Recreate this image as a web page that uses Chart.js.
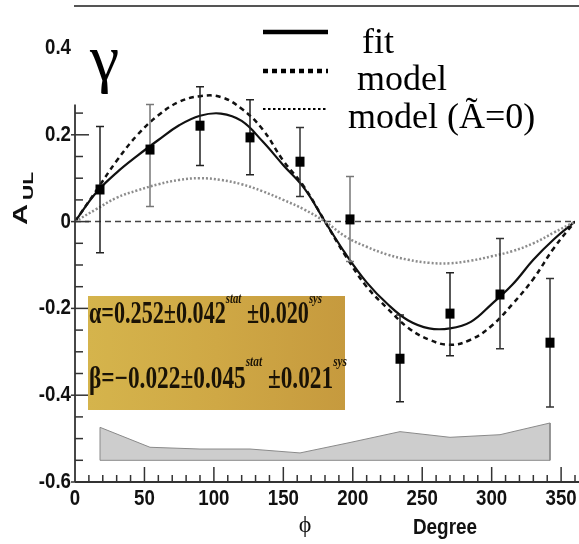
<!DOCTYPE html>
<html><head><meta charset="utf-8">
<style>html,body{margin:0;padding:0;background:#fff;}#wrap{width:579px;height:544px;position:relative;}</style>
<script src="https://cdn.jsdelivr.net/npm/chart.js@4.4.1/dist/chart.umd.min.js"></script>
</head><body><div id="wrap"><canvas id="c" width="579" height="544"></canvas></div>
<script>
// ---- data ----
const phi      = [18, 54, 90, 126, 162, 198, 234, 270, 306, 342];
const aul      = [0.074, 0.166, 0.221, 0.194, 0.138, 0.005, -0.316, -0.212, -0.168, -0.279];
const errHigh  = [0.219, 0.27, 0.311, 0.281, 0.217, 0.104, -0.215, -0.118, -0.039, -0.131];
const errLow   = [-0.072, 0.035, 0.129, 0.108, 0.058, -0.092, -0.415, -0.309, -0.293, -0.427];
const sysTop   = [-0.474, -0.52, -0.524, -0.524, -0.533, -0.509, -0.484, -0.497, -0.491, -0.464];
const sysBase  = -0.55;
const curvePhi = [0,15,30,45,60,75,90,105,120,135,150,165,180,195,210,225,240,255,270,285,300,315,330,345,360];
const fitCurve = [0,0.066,0.113,0.152,0.188,0.222,0.244,0.249,0.232,0.185,0.13,0.077,0,-0.075,-0.14,-0.19,-0.228,-0.246,-0.246,-0.231,-0.19,-0.145,-0.088,-0.04,0];
const modelCurve = [0,0.07,0.14,0.2,0.245,0.276,0.289,0.287,0.26,0.213,0.14,0.08,0,-0.08,-0.15,-0.2,-0.245,-0.272,-0.284,-0.272,-0.24,-0.19,-0.132,-0.06,0];
const modelA0Curve = [0,0.028,0.055,0.072,0.086,0.096,0.1,0.096,0.086,0.07,0.05,0.028,0,-0.035,-0.058,-0.076,-0.088,-0.095,-0.096,-0.09,-0.08,-0.068,-0.05,-0.025,0];
const xTickValues = [0,50,100,150,200,250,300,350];
const xTickLabels = ['0','50','100','150','200','250','300','350'];
const yTickValues = [0.4,0.2,0,-0.2,-0.4,-0.6];
const yTickLabels = ['0.4','0.2','0','-0.2','-0.4','-0.6'];
const legendLabels = ['fit','model','model (Ã=0)'];
const boxLine1 = ['α=0.252±0.042','stat',' ±0.020','sys'];
const boxLine2 = ['β=−0.022±0.045','stat',' ±0.021','sys'];

// ---- styling ----
const barColors = ['#222','#777','#222','#222','#333','#777','#222','#222','#333','#333'];

const pts = (xs, ys) => xs.map((x,i)=>({x:x, y:ys[i]}));
const bandPts = [{x:phi[0],y:sysBase}].concat(pts(phi, sysTop)).concat([{x:phi[phi.length-1],y:sysBase},{x:phi[0],y:sysBase}]);

function ntext(ctx, str, x, y, font, sx, align){
  ctx.save(); ctx.font=font; ctx.translate(x,y); ctx.scale(sx,1);
  ctx.textAlign=align||'left'; ctx.fillText(str,0,0); ctx.restore();
}

const deco = {
  id:'deco',
  beforeDatasetsDraw(chart){
    const ctx=chart.ctx, xs=chart.scales.x, ys=chart.scales.y;
    ctx.save();
    ctx.strokeStyle='#444'; ctx.lineWidth=1.5; ctx.setLineDash([6,4]);
    ctx.beginPath(); ctx.moveTo(xs.getPixelForValue(0), ys.getPixelForValue(0)); ctx.lineTo(xs.getPixelForValue(360), ys.getPixelForValue(0)); ctx.stroke();
    ctx.setLineDash([]);
    ctx.restore();
  },
  afterDatasetsDraw(chart){
    const ctx=chart.ctx, xs=chart.scales.x, ys=chart.scales.y;
    ctx.save();
    // error bars
    ctx.lineWidth=1.5;
    phi.forEach((p,i)=>{
      const x=xs.getPixelForValue(p), y1=ys.getPixelForValue(errHigh[i]), y2=ys.getPixelForValue(errLow[i]);
      ctx.strokeStyle=barColors[i];
      ctx.beginPath(); ctx.moveTo(x,y1); ctx.lineTo(x,y2);
      ctx.moveTo(x-4,y1); ctx.lineTo(x+4,y1); ctx.moveTo(x-4,y2); ctx.lineTo(x+4,y2); ctx.stroke();
    });
    // markers
    ctx.fillStyle='#000';
    phi.forEach((p,i)=>{
      const x=xs.getPixelForValue(p), y=ys.getPixelForValue(aul[i]);
      ctx.fillRect(x-4.5,y-5,9,10);
    });
    // axes
    const x0=xs.getPixelForValue(0), yB=ys.getPixelForValue(-0.6);
    ctx.strokeStyle='#333'; ctx.lineWidth=1.8;
    ctx.beginPath(); ctx.moveTo(x0, yB); ctx.lineTo(579, yB); ctx.stroke();
    ctx.beginPath(); ctx.moveTo(x0, yB); ctx.lineTo(x0, ys.getPixelForValue(0.27)); ctx.stroke();
    ctx.lineWidth=1.5;
    for(let v=10; v<=360; v+=10){
      const x=xs.getPixelForValue(v); const L=(v%50===0)?15:7;
      ctx.beginPath(); ctx.moveTo(x,yB); ctx.lineTo(x,yB-L); ctx.stroke();
    }
    for(let k=-12; k<=5; k++){
      const v=k*0.05, y=ys.getPixelForValue(v);
      const major=(k%4===0);
      ctx.beginPath(); ctx.moveTo(major?x0-4:x0, y); ctx.lineTo(major?x0+14:x0+8, y); ctx.stroke();
    }
    // top frame line
    ctx.strokeStyle='#555'; ctx.lineWidth=2;
    ctx.beginPath(); ctx.moveTo(x0-1,6); ctx.lineTo(579,6); ctx.stroke();
    // tick labels
    ctx.fillStyle='#111'; ctx.textBaseline='middle';
    yTickValues.forEach((v,i)=> ntext(ctx, yTickLabels[i], 71, ys.getPixelForValue(v), 'bold 22px "Liberation Sans", Arial, sans-serif', 0.85, 'right'));
    xTickValues.forEach((v,i)=> ntext(ctx, xTickLabels[i], xs.getPixelForValue(v), 499, 'bold 22px "Liberation Sans", Arial, sans-serif', 0.85, 'center'));
    ctx.textBaseline='alphabetic';
    // x axis title
    ntext(ctx, 'Degree', 445, 534, 'bold 22px "Liberation Sans", Arial, sans-serif', 0.86, 'center');
    ctx.font='24px "Liberation Serif", serif'; ctx.textAlign='center'; ctx.fillText('ϕ', 305, 532);
    // y axis title  A_UL (rotated)
    ctx.save(); ctx.translate(27,225); ctx.rotate(-Math.PI/2); ctx.scale(1.5,1);
    ctx.font='bold 19.5px "Liberation Sans", Arial, sans-serif'; ctx.textAlign='left'; ctx.fillText('A',0,0); ctx.restore();
    ctx.save(); ctx.translate(33,200); ctx.rotate(-Math.PI/2); ctx.scale(1.4,1);
    ctx.font='bold 15px "Liberation Sans", Arial, sans-serif'; ctx.textAlign='left'; ctx.fillText('UL',0,0); ctx.restore();
    // gamma
    ctx.font='66px "Liberation Serif", serif'; ctx.textAlign='left'; ctx.fillStyle='#000'; ctx.fillText('γ', 90, 80);
    // legend
    ctx.strokeStyle='#000';
    ctx.lineWidth=4.5; ctx.beginPath(); ctx.moveTo(263,32); ctx.lineTo(328,32); ctx.stroke();
    ctx.setLineDash([5,4]); ctx.beginPath(); ctx.moveTo(263,71); ctx.lineTo(328,71); ctx.stroke();
    ctx.lineWidth=2; ctx.setLineDash([2.5,2.5]); ctx.beginPath(); ctx.moveTo(263,109); ctx.lineTo(328,109); ctx.stroke();
    ctx.setLineDash([]);
    ctx.font='36px "Liberation Serif", serif'; ctx.textAlign='left';
    ctx.fillText(legendLabels[0], 362, 53);
    ctx.fillText(legendLabels[1], 357, 90);
    ctx.fillText(legendLabels[2], 348, 128);
    // yellow box
    const g=ctx.createLinearGradient(88,0,345,0);
    g.addColorStop(0,'#d5b44c'); g.addColorStop(0.5,'#cfa845'); g.addColorStop(1,'#c69a3e');
    ctx.fillStyle=g; ctx.fillRect(88,296,257,114);
    ctx.fillStyle='#1a1306';
    const drawLine=(parts, x, base, supBase, target)=>{
      const big='bold 31px "Liberation Serif", serif', small='italic bold 15px "Liberation Serif", serif';
      let tot=0;
      parts.forEach((p,i)=>{ ctx.font=(i%2===0)?big:small; tot+=ctx.measureText(p).width; });
      const sx=target/tot; let cx=x;
      parts.forEach((p,i)=>{
        const f=(i%2===0)?big:small;
        ntext(ctx, p, cx, (i%2===0)?base:supBase, f, sx, 'left');
        ctx.font=f; cx+=ctx.measureText(p).width*sx;
      });
    };
    drawLine(boxLine1, 89, 323, 303, 233);
    drawLine(boxLine2, 89, 388, 366, 258);
    ctx.restore();
  }
};

new Chart(document.getElementById('c'), {
  type:'line',
  data:{ datasets:[
    {data:bandPts, borderColor:'#8a8a8a', borderWidth:1, backgroundColor:'#cdcdcd', fill:'shape', pointRadius:0, tension:0},
    {data:pts(curvePhi, modelA0Curve), borderColor:'#8c8c8c', borderWidth:2.5, borderDash:[2,2], pointRadius:0, fill:false, tension:0.4},
    {data:pts(curvePhi, modelCurve), borderColor:'#111', borderWidth:2.5, borderDash:[5,4], pointRadius:0, fill:false, tension:0.4},
    {data:pts(curvePhi, fitCurve), borderColor:'#111', borderWidth:2.2, pointRadius:0, fill:false, tension:0.4}
  ]},
  options:{
    responsive:false, animation:false, devicePixelRatio:1,
    layout:{padding:{left:75, right:4, top:48, bottom:62}},
    plugins:{legend:{display:false}, tooltip:{enabled:false}, title:{display:false}},
    scales:{
      x:{type:'linear', min:0, max:360, display:false},
      y:{type:'linear', min:-0.6, max:0.4, display:false}
    }
  },
  plugins:[deco]
});
</script></body></html>
